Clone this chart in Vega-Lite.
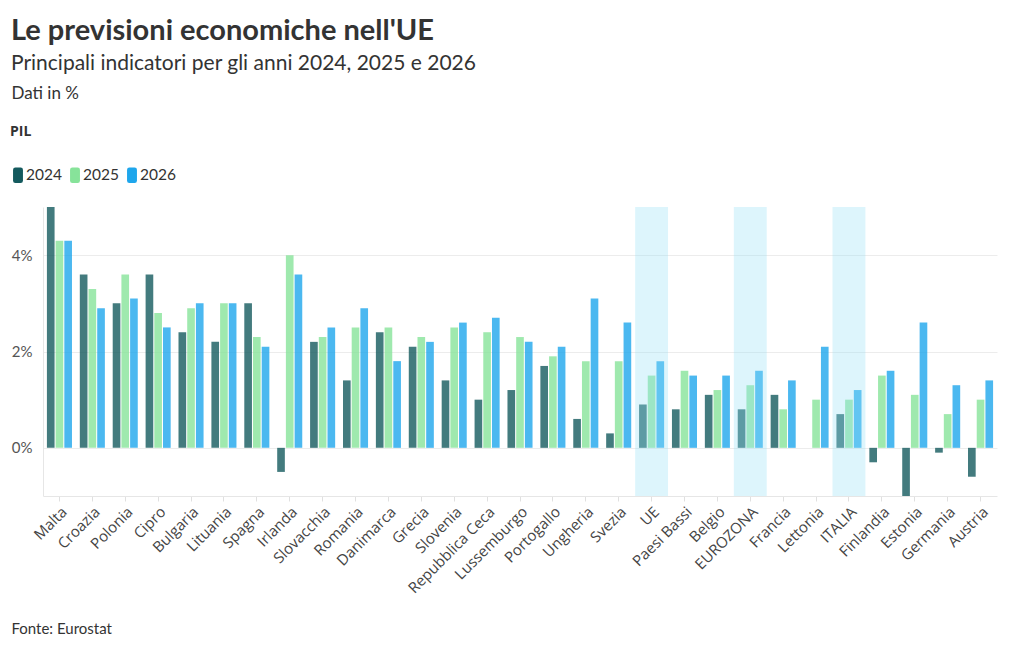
{
  "$schema": "https://vega.github.io/schema/vega-lite/v6.json",
  "width": 954,
  "height": 289,
  "autosize": {"type": "none"},
  "padding": {"left": 43, "top": 207, "right": 23, "bottom": 154},
  "background": "white",
  "title": {
    "text": "Le previsioni economiche nell'UE",
    "subtitle": "Principali indicatori per gli anni 2024, 2025 e 2026",
    "anchor": "start",
    "frame": "group",
    "dx": -32,
    "font": "Lato",
    "fontSize": 29,
    "fontWeight": "bold",
    "color": "#333333",
    "subtitleFont": "Lato",
    "subtitleFontSize": 21,
    "subtitleColor": "#333333",
    "subtitlePadding": 7,
    "offset": 10
  },
  "config": {
    "view": {"stroke": null},
    "font": "Lato"
  },
  "data": {
    "values": [
      {"paese": "Malta", "anno": "2024", "valore": 5.0},
      {"paese": "Malta", "anno": "2025", "valore": 4.3},
      {"paese": "Malta", "anno": "2026", "valore": 4.3},
      {"paese": "Croazia", "anno": "2024", "valore": 3.6},
      {"paese": "Croazia", "anno": "2025", "valore": 3.3},
      {"paese": "Croazia", "anno": "2026", "valore": 2.9},
      {"paese": "Polonia", "anno": "2024", "valore": 3.0},
      {"paese": "Polonia", "anno": "2025", "valore": 3.6},
      {"paese": "Polonia", "anno": "2026", "valore": 3.1},
      {"paese": "Cipro", "anno": "2024", "valore": 3.6},
      {"paese": "Cipro", "anno": "2025", "valore": 2.8},
      {"paese": "Cipro", "anno": "2026", "valore": 2.5},
      {"paese": "Bulgaria", "anno": "2024", "valore": 2.4},
      {"paese": "Bulgaria", "anno": "2025", "valore": 2.9},
      {"paese": "Bulgaria", "anno": "2026", "valore": 3.0},
      {"paese": "Lituania", "anno": "2024", "valore": 2.2},
      {"paese": "Lituania", "anno": "2025", "valore": 3.0},
      {"paese": "Lituania", "anno": "2026", "valore": 3.0},
      {"paese": "Spagna", "anno": "2024", "valore": 3.0},
      {"paese": "Spagna", "anno": "2025", "valore": 2.3},
      {"paese": "Spagna", "anno": "2026", "valore": 2.1},
      {"paese": "Irlanda", "anno": "2024", "valore": -0.5},
      {"paese": "Irlanda", "anno": "2025", "valore": 4.0},
      {"paese": "Irlanda", "anno": "2026", "valore": 3.6},
      {"paese": "Slovacchia", "anno": "2024", "valore": 2.2},
      {"paese": "Slovacchia", "anno": "2025", "valore": 2.3},
      {"paese": "Slovacchia", "anno": "2026", "valore": 2.5},
      {"paese": "Romania", "anno": "2024", "valore": 1.4},
      {"paese": "Romania", "anno": "2025", "valore": 2.5},
      {"paese": "Romania", "anno": "2026", "valore": 2.9},
      {"paese": "Danimarca", "anno": "2024", "valore": 2.4},
      {"paese": "Danimarca", "anno": "2025", "valore": 2.5},
      {"paese": "Danimarca", "anno": "2026", "valore": 1.8},
      {"paese": "Grecia", "anno": "2024", "valore": 2.1},
      {"paese": "Grecia", "anno": "2025", "valore": 2.3},
      {"paese": "Grecia", "anno": "2026", "valore": 2.2},
      {"paese": "Slovenia", "anno": "2024", "valore": 1.4},
      {"paese": "Slovenia", "anno": "2025", "valore": 2.5},
      {"paese": "Slovenia", "anno": "2026", "valore": 2.6},
      {"paese": "Repubblica Ceca", "anno": "2024", "valore": 1.0},
      {"paese": "Repubblica Ceca", "anno": "2025", "valore": 2.4},
      {"paese": "Repubblica Ceca", "anno": "2026", "valore": 2.7},
      {"paese": "Lussemburgo", "anno": "2024", "valore": 1.2},
      {"paese": "Lussemburgo", "anno": "2025", "valore": 2.3},
      {"paese": "Lussemburgo", "anno": "2026", "valore": 2.2},
      {"paese": "Portogallo", "anno": "2024", "valore": 1.7},
      {"paese": "Portogallo", "anno": "2025", "valore": 1.9},
      {"paese": "Portogallo", "anno": "2026", "valore": 2.1},
      {"paese": "Ungheria", "anno": "2024", "valore": 0.6},
      {"paese": "Ungheria", "anno": "2025", "valore": 1.8},
      {"paese": "Ungheria", "anno": "2026", "valore": 3.1},
      {"paese": "Svezia", "anno": "2024", "valore": 0.3},
      {"paese": "Svezia", "anno": "2025", "valore": 1.8},
      {"paese": "Svezia", "anno": "2026", "valore": 2.6},
      {"paese": "UE", "anno": "2024", "valore": 0.9, "evidenza": true},
      {"paese": "UE", "anno": "2025", "valore": 1.5, "evidenza": true},
      {"paese": "UE", "anno": "2026", "valore": 1.8, "evidenza": true},
      {"paese": "Paesi Bassi", "anno": "2024", "valore": 0.8},
      {"paese": "Paesi Bassi", "anno": "2025", "valore": 1.6},
      {"paese": "Paesi Bassi", "anno": "2026", "valore": 1.5},
      {"paese": "Belgio", "anno": "2024", "valore": 1.1},
      {"paese": "Belgio", "anno": "2025", "valore": 1.2},
      {"paese": "Belgio", "anno": "2026", "valore": 1.5},
      {"paese": "EUROZONA", "anno": "2024", "valore": 0.8, "evidenza": true},
      {"paese": "EUROZONA", "anno": "2025", "valore": 1.3, "evidenza": true},
      {"paese": "EUROZONA", "anno": "2026", "valore": 1.6, "evidenza": true},
      {"paese": "Francia", "anno": "2024", "valore": 1.1},
      {"paese": "Francia", "anno": "2025", "valore": 0.8},
      {"paese": "Francia", "anno": "2026", "valore": 1.4},
      {"paese": "Lettonia", "anno": "2024", "valore": 0.0},
      {"paese": "Lettonia", "anno": "2025", "valore": 1.0},
      {"paese": "Lettonia", "anno": "2026", "valore": 2.1},
      {"paese": "ITALIA", "anno": "2024", "valore": 0.7, "evidenza": true},
      {"paese": "ITALIA", "anno": "2025", "valore": 1.0, "evidenza": true},
      {"paese": "ITALIA", "anno": "2026", "valore": 1.2, "evidenza": true},
      {"paese": "Finlandia", "anno": "2024", "valore": -0.3},
      {"paese": "Finlandia", "anno": "2025", "valore": 1.5},
      {"paese": "Finlandia", "anno": "2026", "valore": 1.6},
      {"paese": "Estonia", "anno": "2024", "valore": -1.0},
      {"paese": "Estonia", "anno": "2025", "valore": 1.1},
      {"paese": "Estonia", "anno": "2026", "valore": 2.6},
      {"paese": "Germania", "anno": "2024", "valore": -0.1},
      {"paese": "Germania", "anno": "2025", "valore": 0.7},
      {"paese": "Germania", "anno": "2026", "valore": 1.3},
      {"paese": "Austria", "anno": "2024", "valore": -0.6},
      {"paese": "Austria", "anno": "2025", "valore": 1.0},
      {"paese": "Austria", "anno": "2026", "valore": 1.4}
    ]
  },
  "encoding": {
    "x": {
      "field": "paese",
      "type": "nominal",
      "sort": null,
      "scale": {"paddingInner": 0, "paddingOuter": 0},
      "axis": {
        "title": "Fonte: Eurostat",
        "titleX": -32,
        "titleY": 137,
        "titleAlign": "left",
        "titleBaseline": "alphabetic",
        "titleFont": "Lato",
        "titleFontSize": 15,
        "titleFontWeight": "normal",
        "titleColor": "#333333",
        "labelAngle": -45,
        "labelAlign": "right",
        "labelBaseline": "top",
        "labelFont": "Open Sans",
        "labelFontSize": 15,
        "labelColor": "#444444",
        "labelPadding": 3,
        "ticks": true,
        "tickColor": "#e0e0e0",
        "tickSize": 5,
        "domainColor": "#e6e6e6",
        "grid": false
      }
    }
  },
  "layer": [
    {
      "mark": {"type": "bar", "opacity": 0.8},
      "encoding": {
        "xOffset": {
          "field": "anno",
          "type": "nominal",
          "scale": {"paddingInner": 0.12, "paddingOuter": 0.45}
        },
        "y": {
          "field": "valore",
          "type": "quantitative",
          "scale": {"domain": [-1, 5], "nice": false},
          "axis": {
            "title": "Dati in %",
            "titleAngle": 0,
            "titleAlign": "left",
            "titleBaseline": "alphabetic",
            "titleX": -32,
            "titleY": -109,
            "titleFont": "Lato",
            "titleFontSize": 17,
            "titleFontWeight": "normal",
            "titleColor": "#333333",
            "values": [0, 2, 4],
            "labelExpr": "datum.value + '%'",
            "labelFont": "Lato",
            "labelFontSize": 15,
            "labelColor": "#555555",
            "labelPadding": 11,
            "ticks": false,
            "domain": true,
            "domainColor": "#e6e6e6",
            "gridColor": "#ececec"
          }
        },
        "color": {
          "field": "anno",
          "type": "nominal",
          "scale": {"domain": ["2024", "2025", "2026"], "range": ["#145a5e", "#87e39a", "#1ea6ec"]},
          "legend": {
            "title": "PIL",
            "orient": "none",
            "legendX": -33,
            "legendY": -82,
            "direction": "horizontal",
            "titleFont": "Open Sans",
            "titleFontSize": 14,
            "titleFontWeight": "bold",
            "titleColor": "#333333",
            "titlePadding": 28,
            "symbolType": "M-0.34,-1H0.34Q0.64,-1 0.64,-0.7V0.7Q0.64,1 0.34,1H-0.34Q-0.64,1 -0.64,0.7V-0.7Q-0.64,-1 -0.34,-1Z",
            "symbolSize": 240,
            "symbolOpacity": 1,
            "symbolStrokeWidth": 0,
            "labelFont": "Lato",
            "labelFontSize": 15.5,
            "labelColor": "#333333",
            "labelOffset": 0,
            "columnPadding": 5
          }
        }
      }
    },
    {
      "transform": [{"filter": "datum.evidenza === true && datum.anno === '2024'"}],
      "mark": {"type": "rect", "color": "#96dff7", "opacity": 0.32},
      "encoding": {
        "y": {"datum": 5},
        "y2": {"datum": -1}
      }
    }
  ]
}
